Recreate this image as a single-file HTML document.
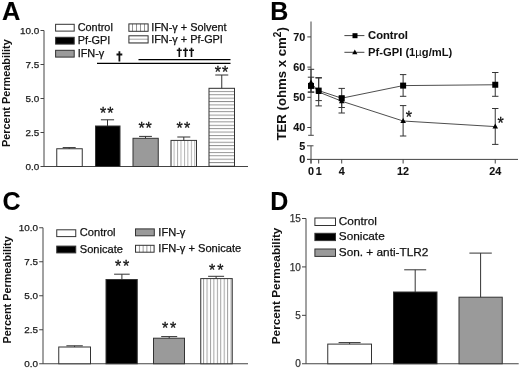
<!DOCTYPE html>
<html><head><meta charset="utf-8"><style>
html,body{margin:0;padding:0;background:#fff;width:520px;height:370px;overflow:hidden}
svg{display:block;font-family:'Liberation Sans', sans-serif;filter:grayscale(100%)}

</style></head><body>
<svg width="520" height="370" viewBox="0 0 520 370">
<defs><pattern id="vA" patternUnits="userSpaceOnUse" x="173.6" y="0" width="3.45" height="10"><rect width="3.45" height="10" fill="#fff"/><line x1="0.5" y1="0" x2="0.5" y2="10" stroke="#aaa" stroke-width="0.9"/></pattern><pattern id="hA" patternUnits="userSpaceOnUse" x="0" y="90.9" width="10" height="3.39"><rect width="10" height="3.39" fill="#fff"/><line x1="0" y1="0.5" x2="10" y2="0.5" stroke="#888" stroke-width="0.9"/></pattern><pattern id="vC" patternUnits="userSpaceOnUse" x="199.7" y="0" width="3.43" height="10"><rect width="3.43" height="10" fill="#fff"/><line x1="0.5" y1="0" x2="0.5" y2="10" stroke="#999" stroke-width="0.9"/></pattern><pattern id="vL" patternUnits="userSpaceOnUse" x="132.0" y="0" width="4.0" height="10"><rect width="4.0" height="10" fill="#fff"/><line x1="0.5" y1="0" x2="0.5" y2="10" stroke="#888" stroke-width="0.9"/></pattern><pattern id="hL" patternUnits="userSpaceOnUse" x="0" y="38.7" width="10" height="3.9"><rect width="10" height="3.9" fill="#fff"/><line x1="0" y1="0.5" x2="10" y2="0.5" stroke="#999" stroke-width="0.9"/></pattern><pattern id="vL2" patternUnits="userSpaceOnUse" x="138.9" y="0" width="3.75" height="10"><rect width="3.75" height="10" fill="#fff"/><line x1="0.5" y1="0" x2="0.5" y2="10" stroke="#888" stroke-width="0.9"/></pattern></defs>
<rect width="520" height="370" fill="#fff"/>
<text x="1.9" y="20" font-size="25.4" font-weight="bold" text-anchor="start" fill="#000" stroke="#000" stroke-width="0.1" >A</text>
<line x1="44" y1="30.5" x2="44" y2="166.5" stroke="#444" stroke-width="1.0"/>
<line x1="40.5" y1="30.5" x2="44" y2="30.5" stroke="#444" stroke-width="1.0"/>
<text x="39.3" y="34.0" font-size="9.9" font-weight="normal" text-anchor="end" fill="#1a1a1a" stroke="#1a1a1a" stroke-width="0.25" >10.0</text>
<line x1="40.5" y1="64.5" x2="44" y2="64.5" stroke="#444" stroke-width="1.0"/>
<text x="39.3" y="68.0" font-size="9.9" font-weight="normal" text-anchor="end" fill="#1a1a1a" stroke="#1a1a1a" stroke-width="0.25" >7.5</text>
<line x1="40.5" y1="98.5" x2="44" y2="98.5" stroke="#444" stroke-width="1.0"/>
<text x="39.3" y="102.0" font-size="9.9" font-weight="normal" text-anchor="end" fill="#1a1a1a" stroke="#1a1a1a" stroke-width="0.25" >5.0</text>
<line x1="40.5" y1="132.5" x2="44" y2="132.5" stroke="#444" stroke-width="1.0"/>
<text x="39.3" y="136.0" font-size="9.9" font-weight="normal" text-anchor="end" fill="#1a1a1a" stroke="#1a1a1a" stroke-width="0.25" >2.5</text>
<line x1="40.5" y1="166.5" x2="44" y2="166.5" stroke="#444" stroke-width="1.0"/>
<text x="39.3" y="170.0" font-size="9.9" font-weight="normal" text-anchor="end" fill="#1a1a1a" stroke="#1a1a1a" stroke-width="0.25" >0.0</text>
<line x1="44" y1="166.5" x2="248" y2="166.5" stroke="#444" stroke-width="1.0"/>
<text transform="translate(10.4,147) rotate(-90)" font-size="10.9" font-weight="bold" fill="#111">Percent Permeability</text>
<rect x="56.75" y="148.75" width="25.5" height="17.75" fill="#fff" stroke="#333" stroke-width="1.0" />
<line x1="69.2" y1="147.6" x2="69.2" y2="148.75" stroke="#333" stroke-width="1.0"/>
<line x1="62.7" y1="147.6" x2="75.7" y2="147.6" stroke="#333" stroke-width="1.0"/>
<rect x="95.5" y="126" width="24.5" height="40.5" fill="#000" stroke="#333" stroke-width="1.0" />
<line x1="107.5" y1="119.8" x2="107.5" y2="126" stroke="#333" stroke-width="1.0"/>
<line x1="100.9" y1="119.8" x2="114.1" y2="119.8" stroke="#333" stroke-width="1.0"/>
<text x="103.07" y="119.08" font-size="16" text-anchor="middle" fill="#111" stroke="#111" stroke-width="0.3">*</text>
<text x="110.47" y="119.08" font-size="16" text-anchor="middle" fill="#111" stroke="#111" stroke-width="0.3">*</text>
<rect x="133" y="138.3" width="25.25" height="28.19999999999999" fill="#9a9a9a" stroke="#333" stroke-width="1.0" />
<line x1="145.5" y1="136.4" x2="145.5" y2="138.3" stroke="#333" stroke-width="1.0"/>
<line x1="139.1" y1="136.4" x2="151.9" y2="136.4" stroke="#333" stroke-width="1.0"/>
<text x="141.50" y="133.68" font-size="16" text-anchor="middle" fill="#111" stroke="#111" stroke-width="0.3">*</text>
<text x="148.74" y="133.68" font-size="16" text-anchor="middle" fill="#111" stroke="#111" stroke-width="0.3">*</text>
<rect x="171" y="140.4" width="25.5" height="26.099999999999994" fill="url(#vA)" stroke="#333" stroke-width="1.0" />
<line x1="183.8" y1="137" x2="183.8" y2="140.4" stroke="#333" stroke-width="1.0"/>
<line x1="177.3" y1="137" x2="190.3" y2="137" stroke="#333" stroke-width="1.0"/>
<text x="179.60" y="134.43" font-size="16" text-anchor="middle" fill="#111" stroke="#111" stroke-width="0.3">*</text>
<text x="187.05" y="134.43" font-size="16" text-anchor="middle" fill="#111" stroke="#111" stroke-width="0.3">*</text>
<rect x="209" y="88.3" width="25.5" height="78.2" fill="url(#hA)" stroke="#333" stroke-width="1.0" />
<line x1="221.75" y1="75" x2="221.75" y2="88.3" stroke="#333" stroke-width="1.0"/>
<line x1="215.25" y1="75" x2="228.25" y2="75" stroke="#333" stroke-width="1.0"/>
<text x="217.75" y="77.58" font-size="16" text-anchor="middle" fill="#111" stroke="#111" stroke-width="0.3">*</text>
<text x="225.09" y="77.58" font-size="16" text-anchor="middle" fill="#111" stroke="#111" stroke-width="0.3">*</text>
<line x1="138.5" y1="59.6" x2="230.5" y2="59.6" stroke="#000" stroke-width="1.3"/>
<line x1="97" y1="63.4" x2="230.5" y2="63.4" stroke="#000" stroke-width="1.3"/>
<path d="M119.4,51.3L119.4,61.5M116.5,54.5L122.30000000000001,54.5" stroke="#111" stroke-width="1.8" fill="none"/>
<path d="M179.3,47.8L179.3,57.1M176.8,50.2L181.8,50.2" stroke="#111" stroke-width="1.6" fill="none"/>
<path d="M185.5,47.8L185.5,57.1M183.0,50.2L188.0,50.2" stroke="#111" stroke-width="1.6" fill="none"/>
<path d="M191.5,47.8L191.5,57.1M189.0,50.2L194.0,50.2" stroke="#111" stroke-width="1.6" fill="none"/>
<rect x="55.6" y="24.3" width="18.6" height="6.8" fill="#fff" stroke="#333" stroke-width="1.0" />
<text x="77.7" y="30.9" font-size="10.9" font-weight="normal" text-anchor="start" fill="#111" stroke="#111" stroke-width="0.25" >Control</text>
<rect x="55.6" y="37.3" width="18.6" height="6.8" fill="#000" stroke="#333" stroke-width="1.0" />
<text x="77.7" y="43.9" font-size="10.9" font-weight="normal" text-anchor="start" fill="#111" stroke="#111" stroke-width="0.25" >Pf-GPI</text>
<rect x="55.6" y="50.3" width="18.6" height="6.8" fill="#9a9a9a" stroke="#333" stroke-width="1.0" />
<text x="77.7" y="56.9" font-size="10.9" font-weight="normal" text-anchor="start" fill="#111" stroke="#111" stroke-width="0.25" >IFN-γ</text>
<rect x="128.9" y="23.9" width="19.2" height="7.4" fill="url(#vL)" stroke="#333" stroke-width="1.0" />
<text x="151.2" y="30.9" font-size="10.9" font-weight="normal" text-anchor="start" fill="#111" stroke="#111" stroke-width="0.25" >IFN-γ + Solvent</text>
<rect x="128.9" y="35.8" width="19.2" height="7.199999999999999" fill="url(#hL)" stroke="#333" stroke-width="1.0" />
<text x="151.2" y="43.4" font-size="10.9" font-weight="normal" text-anchor="start" fill="#111" stroke="#111" stroke-width="0.25" >IFN-γ + Pf-GPI</text>
<text x="270.2" y="19.7" font-size="25" font-weight="bold" text-anchor="start" fill="#000" stroke="#000" stroke-width="0.1" >B</text>
<line x1="311" y1="21.5" x2="311" y2="135.3" stroke="#444" stroke-width="1.0"/>
<line x1="307.3" y1="36.9" x2="311" y2="36.9" stroke="#444" stroke-width="1.0"/>
<text x="305.2" y="40.699999999999996" font-size="10.8" font-weight="bold" text-anchor="end" fill="#111" stroke="#111" stroke-width="0.1" >70</text>
<line x1="307.3" y1="67.1" x2="311" y2="67.1" stroke="#444" stroke-width="1.0"/>
<text x="305.2" y="70.89999999999999" font-size="10.8" font-weight="bold" text-anchor="end" fill="#111" stroke="#111" stroke-width="0.1" >60</text>
<line x1="307.3" y1="97.3" x2="311" y2="97.3" stroke="#444" stroke-width="1.0"/>
<text x="305.2" y="101.1" font-size="10.8" font-weight="bold" text-anchor="end" fill="#111" stroke="#111" stroke-width="0.1" >50</text>
<line x1="307.3" y1="127.5" x2="311" y2="127.5" stroke="#444" stroke-width="1.0"/>
<text x="305.2" y="131.3" font-size="10.8" font-weight="bold" text-anchor="end" fill="#111" stroke="#111" stroke-width="0.1" >40</text>
<line x1="308.2" y1="135.3" x2="313.8" y2="135.3" stroke="#444" stroke-width="1.0"/>
<line x1="311" y1="145.8" x2="311" y2="163.5" stroke="#444" stroke-width="1.0"/>
<line x1="307" y1="145.8" x2="313.5" y2="145.8" stroke="#444" stroke-width="1.0"/>
<line x1="307" y1="159.4" x2="311" y2="159.4" stroke="#444" stroke-width="1.0"/>
<text x="305.2" y="149.5" font-size="10.8" font-weight="bold" text-anchor="end" fill="#111" stroke="#111" stroke-width="0.1" >5</text>
<text x="305.2" y="163.2" font-size="10.8" font-weight="bold" text-anchor="end" fill="#111" stroke="#111" stroke-width="0.1" >0</text>
<line x1="307" y1="159.4" x2="518" y2="159.4" stroke="#444" stroke-width="1.0"/>
<line x1="311.0" y1="159.4" x2="311.0" y2="163.5" stroke="#444" stroke-width="1.0"/>
<text x="311.0" y="175.3" font-size="10.8" font-weight="bold" text-anchor="middle" fill="#111" stroke="#111" stroke-width="0.1" >0</text>
<line x1="318.677" y1="159.4" x2="318.677" y2="163.5" stroke="#444" stroke-width="1.0"/>
<text x="318.677" y="175.3" font-size="10.8" font-weight="bold" text-anchor="middle" fill="#111" stroke="#111" stroke-width="0.1" >1</text>
<line x1="341.70799999999997" y1="159.4" x2="341.70799999999997" y2="163.5" stroke="#444" stroke-width="1.0"/>
<text x="341.70799999999997" y="175.3" font-size="10.8" font-weight="bold" text-anchor="middle" fill="#111" stroke="#111" stroke-width="0.1" >4</text>
<line x1="403.124" y1="159.4" x2="403.124" y2="163.5" stroke="#444" stroke-width="1.0"/>
<text x="403.124" y="175.3" font-size="10.8" font-weight="bold" text-anchor="middle" fill="#111" stroke="#111" stroke-width="0.1" >12</text>
<line x1="495.248" y1="159.4" x2="495.248" y2="163.5" stroke="#444" stroke-width="1.0"/>
<text x="495.248" y="175.3" font-size="10.8" font-weight="bold" text-anchor="middle" fill="#111" stroke="#111" stroke-width="0.1" >24</text>
<text transform="translate(286.4,140.5) rotate(-90)" font-size="13.2" font-weight="bold" fill="#111">TER (ohms x cm<tspan font-size="10" dy="-5.2">2</tspan><tspan dy="5.2">)</tspan></text>
<polyline points="311.00,85.9 318.68,90.6 341.71,98.2 403.12,85.6 495.25,84.75" fill="none" stroke="#444" stroke-width="0.95"/>
<polyline points="311.00,82.4 318.68,92.0 341.71,101.2 403.12,121 495.25,126.6" fill="none" stroke="#444" stroke-width="0.95"/>
<line x1="311.0" y1="69.3" x2="311.0" y2="92.1" stroke="#333" stroke-width="1.0"/>
<line x1="307.8" y1="69.3" x2="314.2" y2="69.3" stroke="#333" stroke-width="1.0"/>
<line x1="307.8" y1="92.1" x2="314.2" y2="92.1" stroke="#333" stroke-width="1.0"/>
<line x1="311.0" y1="77.2" x2="311.0" y2="92.1" stroke="#333" stroke-width="1.0"/>
<line x1="307.8" y1="77.2" x2="314.2" y2="77.2" stroke="#333" stroke-width="1.0"/>
<line x1="307.8" y1="92.1" x2="314.2" y2="92.1" stroke="#333" stroke-width="1.0"/>
<line x1="318.677" y1="77.6" x2="318.677" y2="105.9" stroke="#333" stroke-width="1.0"/>
<line x1="315.47700000000003" y1="77.6" x2="321.877" y2="77.6" stroke="#333" stroke-width="1.0"/>
<line x1="315.47700000000003" y1="105.9" x2="321.877" y2="105.9" stroke="#333" stroke-width="1.0"/>
<line x1="318.677" y1="78" x2="318.677" y2="100.6" stroke="#333" stroke-width="1.0"/>
<line x1="315.47700000000003" y1="78" x2="321.877" y2="78" stroke="#333" stroke-width="1.0"/>
<line x1="315.47700000000003" y1="100.6" x2="321.877" y2="100.6" stroke="#333" stroke-width="1.0"/>
<line x1="341.70799999999997" y1="88.4" x2="341.70799999999997" y2="113" stroke="#333" stroke-width="1.0"/>
<line x1="338.508" y1="88.4" x2="344.90799999999996" y2="88.4" stroke="#333" stroke-width="1.0"/>
<line x1="338.508" y1="113" x2="344.90799999999996" y2="113" stroke="#333" stroke-width="1.0"/>
<line x1="341.70799999999997" y1="97" x2="341.70799999999997" y2="107.5" stroke="#333" stroke-width="1.0"/>
<line x1="338.508" y1="97" x2="344.90799999999996" y2="97" stroke="#333" stroke-width="1.0"/>
<line x1="338.508" y1="107.5" x2="344.90799999999996" y2="107.5" stroke="#333" stroke-width="1.0"/>
<line x1="403.124" y1="74.6" x2="403.124" y2="96.3" stroke="#333" stroke-width="1.0"/>
<line x1="399.92400000000004" y1="74.6" x2="406.324" y2="74.6" stroke="#333" stroke-width="1.0"/>
<line x1="399.92400000000004" y1="96.3" x2="406.324" y2="96.3" stroke="#333" stroke-width="1.0"/>
<line x1="403.124" y1="105.6" x2="403.124" y2="136" stroke="#333" stroke-width="1.0"/>
<line x1="399.92400000000004" y1="105.6" x2="406.324" y2="105.6" stroke="#333" stroke-width="1.0"/>
<line x1="399.92400000000004" y1="136" x2="406.324" y2="136" stroke="#333" stroke-width="1.0"/>
<line x1="495.248" y1="72.5" x2="495.248" y2="96.3" stroke="#333" stroke-width="1.0"/>
<line x1="492.048" y1="72.5" x2="498.448" y2="72.5" stroke="#333" stroke-width="1.0"/>
<line x1="492.048" y1="96.3" x2="498.448" y2="96.3" stroke="#333" stroke-width="1.0"/>
<line x1="495.248" y1="108.5" x2="495.248" y2="144.4" stroke="#333" stroke-width="1.0"/>
<line x1="492.048" y1="108.5" x2="498.448" y2="108.5" stroke="#333" stroke-width="1.0"/>
<line x1="492.048" y1="144.4" x2="498.448" y2="144.4" stroke="#333" stroke-width="1.0"/>
<rect x="308.00" y="82.90" width="6" height="6" fill="#000"/>
<rect x="315.68" y="87.60" width="6" height="6" fill="#000"/>
<rect x="338.71" y="95.20" width="6" height="6" fill="#000"/>
<rect x="400.12" y="82.60" width="6" height="6" fill="#000"/>
<rect x="492.25" y="81.75" width="6" height="6" fill="#000"/>
<path d="M311.00,79.38L313.80,84.42L308.20,84.42Z" fill="#000"/>
<path d="M318.68,88.98L321.48,94.02L315.88,94.02Z" fill="#000"/>
<path d="M341.71,98.18L344.51,103.22L338.91,103.22Z" fill="#000"/>
<path d="M403.12,117.98L405.92,123.02L400.32,123.02Z" fill="#000"/>
<path d="M495.25,123.58L498.05,128.62L492.45,128.62Z" fill="#000"/>
<text x="408.82" y="123.28" font-size="16" text-anchor="middle" fill="#111" stroke="#111" stroke-width="0.3">*</text>
<text x="500.62" y="128.88" font-size="16" text-anchor="middle" fill="#111" stroke="#111" stroke-width="0.3">*</text>
<line x1="344.4" y1="35.6" x2="364.4" y2="35.6" stroke="#444" stroke-width="1.0"/>
<rect x="352.50" y="33.20" width="5" height="5" fill="#000"/>
<text x="368.1" y="38.6" font-size="11.2" font-weight="bold" text-anchor="start" fill="#111" stroke="#111" stroke-width="0.1" >Control</text>
<line x1="344.4" y1="52.3" x2="364.4" y2="52.3" stroke="#444" stroke-width="1.0"/>
<path d="M354.80,49.49L357.40,54.17L352.20,54.17Z" fill="#000"/>
<text x="368.1" y="55.5" font-size="11.2" font-weight="bold" fill="#111">Pf-GPI (1<tspan font-weight="normal">µ</tspan>g/mL)</text>
<text x="2.5" y="210.2" font-size="25" font-weight="bold" text-anchor="start" fill="#000" stroke="#000" stroke-width="0.1" >C</text>
<line x1="43" y1="227.75" x2="43" y2="363.75" stroke="#444" stroke-width="1.0"/>
<line x1="39.2" y1="227.75" x2="43" y2="227.75" stroke="#444" stroke-width="1.0"/>
<text x="38.0" y="231.25" font-size="9.9" font-weight="normal" text-anchor="end" fill="#1a1a1a" stroke="#1a1a1a" stroke-width="0.25" >10.0</text>
<line x1="39.2" y1="261.75" x2="43" y2="261.75" stroke="#444" stroke-width="1.0"/>
<text x="38.0" y="265.25" font-size="9.9" font-weight="normal" text-anchor="end" fill="#1a1a1a" stroke="#1a1a1a" stroke-width="0.25" >7.5</text>
<line x1="39.2" y1="295.75" x2="43" y2="295.75" stroke="#444" stroke-width="1.0"/>
<text x="38.0" y="299.25" font-size="9.9" font-weight="normal" text-anchor="end" fill="#1a1a1a" stroke="#1a1a1a" stroke-width="0.25" >5.0</text>
<line x1="39.2" y1="329.75" x2="43" y2="329.75" stroke="#444" stroke-width="1.0"/>
<text x="38.0" y="333.25" font-size="9.9" font-weight="normal" text-anchor="end" fill="#1a1a1a" stroke="#1a1a1a" stroke-width="0.25" >2.5</text>
<line x1="39.2" y1="363.75" x2="43" y2="363.75" stroke="#444" stroke-width="1.0"/>
<text x="38.0" y="367.25" font-size="9.9" font-weight="normal" text-anchor="end" fill="#1a1a1a" stroke="#1a1a1a" stroke-width="0.25" >0.0</text>
<line x1="43" y1="363.75" x2="248" y2="363.75" stroke="#444" stroke-width="1.0"/>
<text transform="translate(10.6,343.6) rotate(-90)" font-size="10.85" font-weight="bold" fill="#111">Percent Permeability</text>
<rect x="58.75" y="347" width="31.75" height="16.75" fill="#fff" stroke="#333" stroke-width="1.0" />
<line x1="74.6" y1="345.8" x2="74.6" y2="347" stroke="#333" stroke-width="1.0"/>
<line x1="66.39999999999999" y1="345.8" x2="82.8" y2="345.8" stroke="#333" stroke-width="1.0"/>
<rect x="106" y="279.5" width="31.25" height="84.25" fill="#000" stroke="#333" stroke-width="1.0" />
<line x1="121.9" y1="274.2" x2="121.9" y2="279.5" stroke="#333" stroke-width="1.0"/>
<line x1="114.10000000000001" y1="274.2" x2="129.70000000000002" y2="274.2" stroke="#333" stroke-width="1.0"/>
<text x="118.03" y="272.13" font-size="16" text-anchor="middle" fill="#111" stroke="#111" stroke-width="0.3">*</text>
<text x="126.02" y="272.13" font-size="16" text-anchor="middle" fill="#111" stroke="#111" stroke-width="0.3">*</text>
<rect x="153.5" y="338.2" width="31.0" height="25.55000000000001" fill="#9a9a9a" stroke="#333" stroke-width="1.0" />
<line x1="169.2" y1="336.6" x2="169.2" y2="338.2" stroke="#333" stroke-width="1.0"/>
<line x1="161.2" y1="336.6" x2="177.2" y2="336.6" stroke="#333" stroke-width="1.0"/>
<text x="165.20" y="334.13" font-size="16" text-anchor="middle" fill="#111" stroke="#111" stroke-width="0.3">*</text>
<text x="173.14" y="334.13" font-size="16" text-anchor="middle" fill="#111" stroke="#111" stroke-width="0.3">*</text>
<rect x="200.75" y="278.6" width="31.5" height="85.14999999999998" fill="url(#vC)" stroke="#333" stroke-width="1.0" />
<line x1="216.1" y1="276.3" x2="216.1" y2="278.6" stroke="#333" stroke-width="1.0"/>
<line x1="208.1" y1="276.3" x2="224.1" y2="276.3" stroke="#333" stroke-width="1.0"/>
<text x="212.09" y="276.18" font-size="16" text-anchor="middle" fill="#111" stroke="#111" stroke-width="0.3">*</text>
<text x="220.25" y="276.18" font-size="16" text-anchor="middle" fill="#111" stroke="#111" stroke-width="0.3">*</text>
<rect x="56.75" y="229.8" width="19" height="6.8" fill="#fff" stroke="#333" stroke-width="1.0" />
<text x="79.8" y="236.2" font-size="11.1" font-weight="normal" text-anchor="start" fill="#111" stroke="#111" stroke-width="0.25" >Control</text>
<rect x="56.75" y="246.1" width="19" height="6.8" fill="#000" stroke="#333" stroke-width="1.0" />
<text x="79.8" y="252.5" font-size="11.1" font-weight="normal" text-anchor="start" fill="#111" stroke="#111" stroke-width="0.25" >Sonicate</text>
<rect x="135.5" y="228.9" width="18.8" height="6.9" fill="#9a9a9a" stroke="#333" stroke-width="1.0" />
<text x="158.3" y="235.6" font-size="11.1" font-weight="normal" text-anchor="start" fill="#111" stroke="#111" stroke-width="0.25" >IFN-γ</text>
<rect x="135.5" y="245.3" width="18.6" height="6.9" fill="url(#vL2)" stroke="#333" stroke-width="1.0" />
<text x="158.3" y="252.2" font-size="11.1" font-weight="normal" text-anchor="start" fill="#111" stroke="#111" stroke-width="0.25" >IFN-γ + Sonicate</text>
<text x="270.3" y="210.2" font-size="25" font-weight="bold" text-anchor="start" fill="#000" stroke="#000" stroke-width="0.1" >D</text>
<line x1="306" y1="218.5" x2="306" y2="363.75" stroke="#444" stroke-width="1.0"/>
<line x1="302" y1="218.505" x2="306" y2="218.505" stroke="#444" stroke-width="1.0"/>
<text x="300.8" y="222.105" font-size="10" font-weight="normal" text-anchor="end" fill="#333" stroke="#333" stroke-width="0.25" >15</text>
<line x1="302" y1="266.92" x2="306" y2="266.92" stroke="#444" stroke-width="1.0"/>
<text x="300.8" y="270.52000000000004" font-size="10" font-weight="normal" text-anchor="end" fill="#333" stroke="#333" stroke-width="0.25" >10</text>
<line x1="302" y1="315.335" x2="306" y2="315.335" stroke="#444" stroke-width="1.0"/>
<text x="300.8" y="318.935" font-size="10" font-weight="normal" text-anchor="end" fill="#333" stroke="#333" stroke-width="0.25" >5</text>
<line x1="302" y1="363.75" x2="306" y2="363.75" stroke="#444" stroke-width="1.0"/>
<text x="300.8" y="367.35" font-size="10" font-weight="normal" text-anchor="end" fill="#333" stroke="#333" stroke-width="0.25" >0</text>
<line x1="306" y1="363.75" x2="518.7" y2="363.75" stroke="#444" stroke-width="1.0"/>
<text transform="translate(280.2,344.3) rotate(-90)" font-size="11.8" font-weight="bold" fill="#111">Percent Permeability</text>
<rect x="327.75" y="344.1" width="43.75" height="19.649999999999977" fill="#fff" stroke="#333" stroke-width="1.0" />
<line x1="349.6" y1="342.6" x2="349.6" y2="344.1" stroke="#333" stroke-width="1.0"/>
<line x1="338.6" y1="342.6" x2="360.6" y2="342.6" stroke="#333" stroke-width="1.0"/>
<rect x="393.5" y="292.0" width="43.5" height="71.75" fill="#000" stroke="#333" stroke-width="1.0" />
<line x1="415.2" y1="269.8" x2="415.2" y2="292.0" stroke="#333" stroke-width="1.0"/>
<line x1="404.2" y1="269.8" x2="426.2" y2="269.8" stroke="#333" stroke-width="1.0"/>
<rect x="459" y="297.2" width="43.25" height="66.55000000000001" fill="#9a9a9a" stroke="#333" stroke-width="1.0" />
<line x1="480.6" y1="253.1" x2="480.6" y2="297.2" stroke="#333" stroke-width="1.0"/>
<line x1="469.40000000000003" y1="253.1" x2="491.8" y2="253.1" stroke="#333" stroke-width="1.0"/>
<rect x="314.9" y="218.0" width="20.6" height="7.5" fill="#fff" stroke="#333" stroke-width="1.0" />
<text x="338.8" y="224.5" font-size="11.8" font-weight="normal" text-anchor="start" fill="#111" stroke="#111" stroke-width="0.25" >Control</text>
<rect x="314.9" y="233.3" width="20.6" height="7.300000000000001" fill="#000" stroke="#333" stroke-width="1.0" />
<text x="338.8" y="240.1" font-size="11.8" font-weight="normal" text-anchor="start" fill="#111" stroke="#111" stroke-width="0.25" >Sonicate</text>
<rect x="314.9" y="249.0" width="20.6" height="7.4" fill="#9a9a9a" stroke="#333" stroke-width="1.0" />
<text x="338.8" y="255.9" font-size="11.8" font-weight="normal" text-anchor="start" fill="#111" stroke="#111" stroke-width="0.25" >Son. + anti-TLR2</text>
</svg></body></html>
